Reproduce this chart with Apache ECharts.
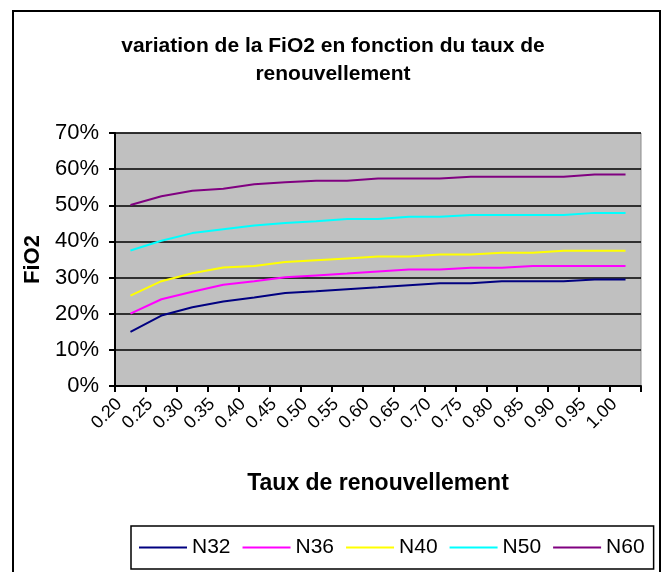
<!DOCTYPE html>
<html>
<head>
<meta charset="utf-8">
<script src="https://cdn.jsdelivr.net/npm/echarts@6/dist/echarts.min.js"></script>
<style>
  html, body { margin: 0; padding: 0; background: #fff; }
  #chart { width: 666px; height: 572px; }
</style>
</head>
<body>
<div id="chart"></div>
<script>
// Renewal rate (x categories)
const categories = ['0.20','0.25','0.30','0.35','0.40','0.45','0.50','0.55','0.60','0.65','0.70','0.75','0.80','0.85','0.90','0.95','1.00'];

// FiO2 values (fraction) for each series
const n32 = [0.150,0.195,0.218,0.234,0.245,0.257,0.262,0.268,0.273,0.279,0.284,0.284,0.290,0.290,0.290,0.295,0.295];
const n36 = [0.200,0.240,0.261,0.280,0.290,0.301,0.306,0.311,0.317,0.322,0.322,0.327,0.327,0.332,0.332,0.332,0.332];
const n40 = [0.250,0.290,0.312,0.328,0.332,0.343,0.348,0.353,0.358,0.358,0.364,0.364,0.369,0.369,0.374,0.374,0.374];
const n50 = [0.375,0.402,0.423,0.434,0.444,0.451,0.456,0.462,0.462,0.468,0.468,0.473,0.473,0.473,0.473,0.479,0.479];
const n60 = [0.501,0.525,0.540,0.546,0.558,0.564,0.568,0.568,0.574,0.574,0.574,0.579,0.579,0.579,0.579,0.585,0.585];

const yTicks = { min: 0, max: 0.7, interval: 0.1 };

const FONT = 'Liberation Sans, Arial, sans-serif';

function lineSeries(name, data, color) {
  return {
    name: name,
    type: 'line',
    data: data,
    symbol: 'none',
    smooth: false,
    lineStyle: { color: color, width: 2 },
    itemStyle: { color: color }
  };
}

const chart = echarts.init(document.getElementById('chart'), null, { renderer: 'canvas' });

chart.setOption({
  animation: false,
  backgroundColor: '#ffffff',
  textStyle: { fontFamily: FONT },
  title: {
    text: 'variation de la FiO2 en fonction du taux de\nrenouvellement',
    left: 'center',
    top: 27,
    textStyle: { fontFamily: FONT, fontSize: 21, fontWeight: 'bold', color: '#000', lineHeight: 28 }
  },
  graphic: [{
    type: 'rect',
    shape: { x: 13, y: 11, width: 647, height: 600 },
    style: { fill: null, stroke: '#000', lineWidth: 2 },
    silent: true,
    z: -1
  }],
  grid: {
    left: 115, right: 25, top: 133, bottom: 186,
    show: true,
    backgroundColor: '#C0C0C0',
    borderColor: '#8c8c8c',
    borderWidth: 1
  },
  legend: {
    left: 131,
    top: 526,
    padding: [11, 9, 11, 7],
    icon: 'inherit',
    itemWidth: 48,
    itemHeight: 14,
    itemGap: 11,
    itemStyle: { opacity: 0 },
    borderColor: '#000',
    borderWidth: 1.5,
    textStyle: { fontFamily: FONT, fontSize: 21, color: '#000' },
    data: ['N32','N36','N40','N50','N60']
  },
  xAxis: {
    type: 'category',
    data: categories,
    boundaryGap: true,
    name: 'Taux de renouvellement',
    nameLocation: 'middle',
    nameGap: 86,
    nameTextStyle: { fontFamily: FONT, fontSize: 23, fontWeight: 'bold', color: '#000' },
    axisLine: { show: true, lineStyle: { color: '#000', width: 2 } },
    axisTick: { show: true, alignWithLabel: false, length: 6, lineStyle: { color: '#000', width: 2 } },
    axisLabel: {
      rotate: 45, interval: 0, margin: 4,
      padding: [0, 16, 0, 0],
      fontFamily: FONT, fontSize: 18, color: '#000'
    },
    splitLine: { show: false }
  },
  yAxis: {
    type: 'value',
    min: yTicks.min,
    max: yTicks.max,
    interval: yTicks.interval,
    name: 'FiO2',
    nameLocation: 'middle',
    nameRotate: 90,
    nameGap: 70,
    nameTextStyle: { fontFamily: FONT, fontSize: 22, fontWeight: 'bold', color: '#000' },
    axisLine: { show: true, lineStyle: { color: '#000', width: 2 } },
    axisTick: { show: true, length: 6, lineStyle: { color: '#000', width: 2 } },
    axisLabel: {
      margin: 16,
      fontFamily: FONT, fontSize: 22, color: '#000',
      formatter: v => Math.round(v * 100) + '%'
    },
    splitLine: { show: true, lineStyle: { color: '#000', width: 1.5 } }
  },
  series: [
    lineSeries('N32', n32, '#000080'),
    lineSeries('N36', n36, '#FF00FF'),
    lineSeries('N40', n40, '#FFFF00'),
    lineSeries('N50', n50, '#00FFFF'),
    lineSeries('N60', n60, '#800080')
  ]
});
</script>
</body>
</html>
